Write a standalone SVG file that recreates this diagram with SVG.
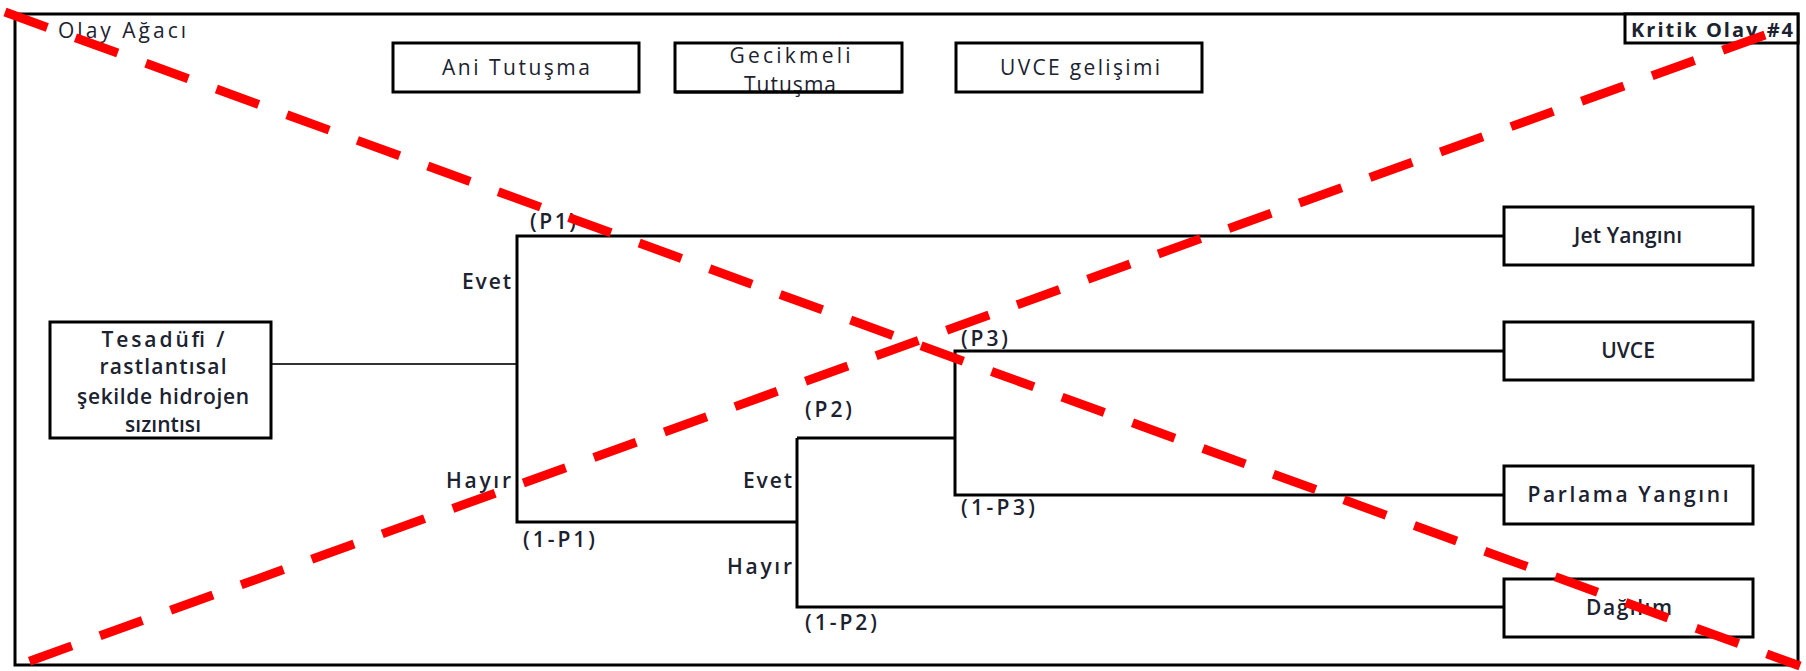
<svg xmlns="http://www.w3.org/2000/svg" width="1806" height="671" viewBox="0 0 1806 671">
<style>
.box{fill:#fff;stroke:#000;stroke-width:3}
.edge{fill:none;stroke:#000;stroke-width:3}
.thin{fill:none;stroke:#333;stroke-width:2}
text{font-family:"Open Sans","Liberation Sans",sans-serif;fill:#1c2230}
.t{font-size:21px;text-anchor:middle}
.r{font-size:21px;font-weight:400}
.s{font-size:21px;font-weight:600}
.b{font-size:20px;font-weight:700}
.x{fill:none;stroke:#ff0000;stroke-width:9;stroke-dasharray:45 30}
</style>
<rect x="0" y="0" width="1806" height="671" fill="#fff"/>
<g id="frame">
<rect x="15" y="14" width="1783" height="651" fill="none" stroke="#000" stroke-width="3"/>
<text class="r" x="58" y="38" textLength="128" lengthAdjust="spacing">Olay Ağacı</text>
</g>
<g id="kritik">
<rect x="1625" y="14" width="173" height="29" fill="#fff" stroke="#000" stroke-width="3"/>
<text class="b" x="1631" y="37" textLength="162" lengthAdjust="spacing">Kritik Olay #4</text>
</g>
<g id="ani">
<rect class="box" x="393" y="43" width="246" height="49"/>
<text class="t" x="516" y="75" textLength="148" lengthAdjust="spacing">Ani Tutuşma</text>
</g>
<g id="gecikmeli">
<rect class="box" x="675" y="43" width="227" height="49"/>
<text class="t" x="790" y="63" textLength="121" lengthAdjust="spacing">Gecikmeli</text>
<text class="t" x="790" y="92" textLength="92" lengthAdjust="spacing">Tutuşma</text>
<line x1="675" y1="92" x2="902" y2="92" stroke="#000" stroke-width="3"/>
</g>
<g id="uvcegel">
<rect class="box" x="956" y="43" width="246" height="49"/>
<text class="t" x="1080" y="75" textLength="160" lengthAdjust="spacing">UVCE gelişimi</text>
</g>
<g id="connectors">
<line class="thin" x1="272" y1="364" x2="517" y2="364"/>
<polyline class="edge" points="1504,236 517,236 517,522 797,522"/>
<polyline class="edge" points="797,438 797,607 1504,607"/>
<line class="edge" x1="797" y1="438" x2="955" y2="438"/>
<polyline class="edge" points="1504,351 955,351 955,495 1504,495"/>
<text class="s" x="530" y="229" textLength="46" lengthAdjust="spacing">(P1)</text>
<text class="s" x="462" y="289" textLength="49" lengthAdjust="spacing">Evet</text>
<text class="s" x="446" y="488" textLength="65" lengthAdjust="spacing">Hayır</text>
<text class="s" x="523" y="547" textLength="72" lengthAdjust="spacing">(1-P1)</text>
<text class="s" x="805" y="417" textLength="47" lengthAdjust="spacing">(P2)</text>
<text class="s" x="743" y="488" textLength="49" lengthAdjust="spacing">Evet</text>
<text class="s" x="727" y="574" textLength="65" lengthAdjust="spacing">Hayır</text>
<text class="s" x="805" y="630" textLength="72" lengthAdjust="spacing">(1-P2)</text>
<text class="s" x="961" y="346" textLength="47" lengthAdjust="spacing">(P3)</text>
<text class="s" x="961" y="515" textLength="74" lengthAdjust="spacing">(1-P3)</text>
</g>
<g id="source">
<rect class="box" x="50" y="322" width="221" height="116"/>
<text class="t s" x="163" y="347" textLength="123" lengthAdjust="spacing">Tesadüfi /</text>
<text class="t s" x="163" y="374" textLength="127" lengthAdjust="spacing">rastlantısal</text>
<text class="t s" x="163" y="404" textLength="172" lengthAdjust="spacing">şekilde hidrojen</text>
<text class="t s" x="163" y="432" textLength="76" lengthAdjust="spacing">sızıntısı</text>
</g>
<g id="jet">
<rect class="box" x="1504" y="207" width="249" height="58"/>
<text class="t s" x="1628" y="243" textLength="108" lengthAdjust="spacing">Jet Yangını</text>
</g>
<g id="uvce">
<rect class="box" x="1504" y="322" width="249" height="58"/>
<text class="t s" x="1628" y="358">UVCE</text>
</g>
<g id="parlama">
<rect class="box" x="1504" y="466" width="249" height="58"/>
<text class="t s" x="1628" y="502" textLength="201" lengthAdjust="spacing">Parlama Yangını</text>
</g>
<g id="dagilim">
<rect class="box" x="1504" y="579" width="249" height="58"/>
<text class="t s" x="1629" y="615" textLength="86" lengthAdjust="spacing">Dağılım</text>
</g>
<g id="cross">
<line class="x" x1="5" y1="12" x2="1800" y2="666"/>
<line class="x" x1="1765" y1="35" x2="5" y2="670"/>
</g>
</svg>
